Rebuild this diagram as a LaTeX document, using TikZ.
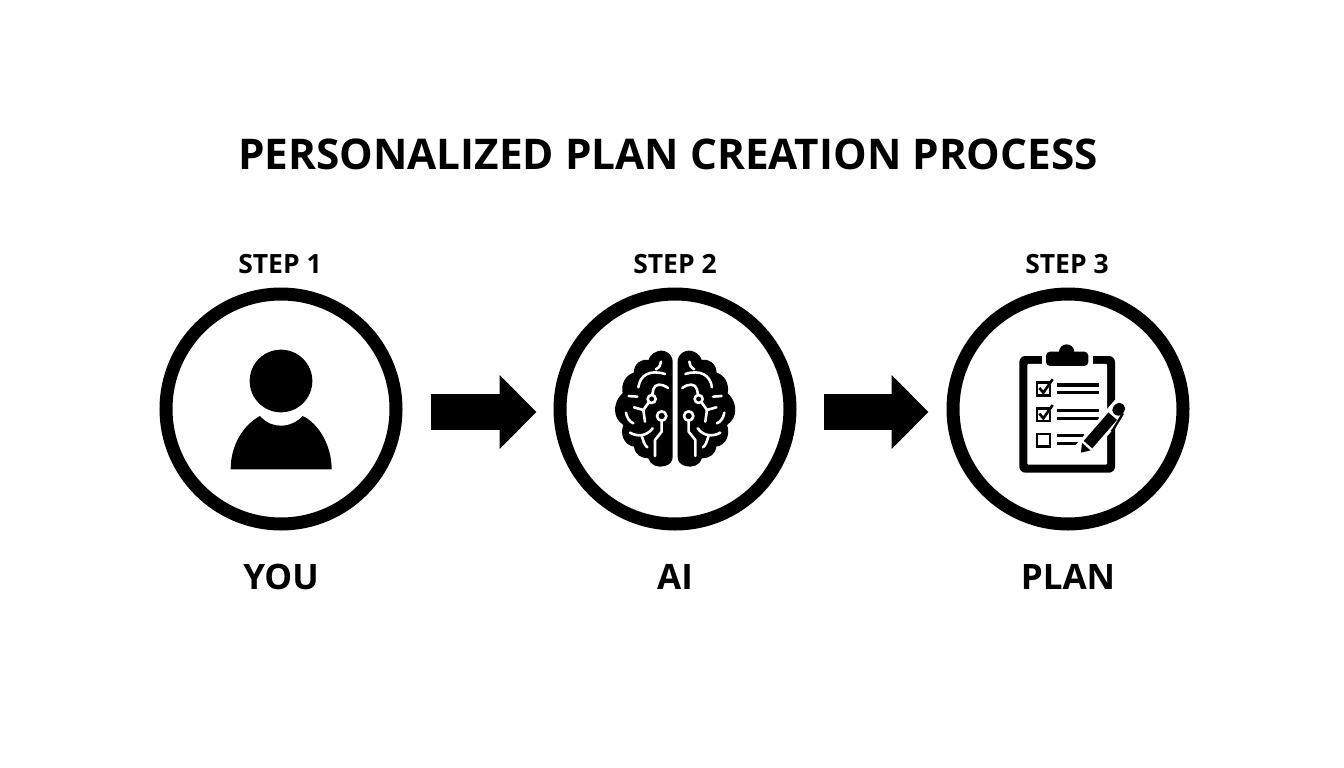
\documentclass[tikz,border=0pt]{standalone}
\usepackage{fontspec}
\setmainfont{Open Sans}
\usetikzlibrary{arrows.meta}
\tikzset{
 x=1pt,y=-1pt,
 ring/.style={circle,draw=black,line width=13pt,minimum size=230pt,inner sep=0pt,fill=white},
 flow/.style={line width=36pt,-{Triangle[length=37pt,width=72pt]},black},
 titletext/.style={font=\fontsize{42.3}{50}\selectfont\bfseries},
 steptext/.style={font=\fontsize{26.5}{30}\selectfont\bfseries},
 nametext/.style={font=\fontsize{35}{42}\selectfont\bfseries},
 vein/.style={draw=white,line width=2.6pt,line cap=round,line join=round},
 bar/.style={draw=black,line width=3.3pt},
}
\newcommand{\hemi}{%
 \fill[black] (218,95) .. controls (218,70) and (190,55) .. (170,65) .. controls (155,70) and (148,82) .. (146,90)
  .. controls (125,85) and (102,100) .. (101,128) .. controls (78,135) and (62,160) .. (68,190)
  .. controls (50,205) and (38,235) .. (50,262) .. controls (55,272) and (62,280) .. (70,285)
  .. controls (60,310) and (70,345) .. (102,350) .. controls (105,375) and (125,385) .. (145,385)
  .. controls (150,405) and (175,415) .. (195,408) .. controls (210,403) and (218,395) .. (218,380) -- cycle;
 \draw[vein] (115,172) .. controls (120,135) and (150,118) .. (195,132);
 \draw[vein] (168,118) .. controls (178,112) and (183,105) .. (183,95);
 \draw[vein] (86,198) -- (112,200);
 \draw[vein] (204,174) .. controls (185,160) and (165,160) .. (160,178) -- (157,194);
 \draw[vein] (155,207) circle (12);
 \draw[vein] (147,216) -- (130,240) -- (102,232);
 \draw[vein] (130,240) -- (135,275);
 \draw[vein] (78,248) .. controls (80,262) and (88,275) .. (100,280);
 \draw[vein] (185,258) circle (14);
 \draw[vein] (185,273) -- (185,305) -- (165,330) -- (165,378);
 \draw[vein] (90,308) .. controls (110,320) and (140,320) .. (158,295);
 \draw[vein] (125,318) .. controls (130,330) and (132,345) .. (142,352);
}
\begin{document}
\begin{tikzpicture}
\useasboundingbox (0,0) rectangle (1344,768);
\fill[white] (0,0) rectangle (1344,768);
\node[titletext] (title) at (668,154) {PERSONALIZED PLAN CREATION PROCESS};
\node[ring] (c1) at (281,409) {};
\node[ring] (c2) at (675,409) {};
\node[ring] (c3) at (1068,409) {};
\node[steptext] (s1) at (280,264) {STEP 1};
\node[steptext] (s2) at (675,264) {STEP 2};
\node[steptext] (s3) at (1067,264) {STEP 3};
\node[nametext] (n1) at (281,577) {YOU};
\node[nametext] (n2) at (675,577) {AI};
\node[nametext] (n3) at (1068,577) {PLAN};
\draw[flow,shorten <=28pt,shorten >=17pt] ([yshift=-3pt]c1.east) -- ([yshift=-3pt]c2.west);
\draw[flow,shorten <=27pt,shorten >=18pt] ([yshift=-3pt]c2.east) -- ([yshift=-3pt]c3.west);
% person
\begin{scope}[shift={(210,330)},x=0.3333pt,y=-0.3333pt]
 \fill[black] (213,153) circle (94);
 \fill[black] (62,418) .. controls (62,345) and (100,285) .. (150,258)
   .. controls (170,280) and (190,287) .. (213,287) .. controls (240,287) and (262,275) .. (278,258)
   .. controls (325,280) and (365,345) .. (365,418) -- cycle;
\end{scope}
% brain
\begin{scope}[shift={(600,330)},x=0.3333pt,y=-0.3333pt]
 \hemi
\end{scope}
\begin{scope}[shift={(750.3,330)},x=-0.3333pt,y=-0.3333pt]
 \hemi
\end{scope}
% clipboard
\begin{scope}[shift={(1000,330)},x=0.3333pt,y=-0.3333pt]
 \fill[black,rounded corners=6pt] (58,78) rectangle (345,428);
 \fill[white,rounded corners=1pt] (82,102) rectangle (321,404);
 \fill[white] (125,70) rectangle (278,102);
 \fill[black,rounded corners=4pt] (138,65) rectangle (265,108);
 \fill[black] (200,66) circle (23);
 \foreach \yy in {0,77}{
  \draw[black,line width=2.6pt] (111,158+\yy) rectangle (150,196+\yy);
  \draw[white,line width=1.6pt] (140,178+\yy) -- (156,152+\yy);
  \draw[black,line width=2.6pt] (118,174+\yy) -- (130,188+\yy) -- (158,148+\yy);
 }
 \draw[black,line width=2.6pt] (111,312) rectangle (150,350);
 \draw[bar] (172,165) -- (296,165); \draw[bar] (172,188) -- (296,188);
 \draw[bar] (172,242) -- (296,242); \draw[bar] (172,265) -- (296,265);
 \draw[bar] (172,316) -- (252,316); \draw[bar] (172,340) -- (240,340);
 % pencil
 \begin{scope}[shift={(243,368)},rotate=49]
  \fill[white,rounded corners=3pt] (-2,-27) rectangle (205,27);
  \fill[black] (0,0) -- (24,-17) -- (24,17) -- cycle;
  \fill[black] (32,-17) rectangle (145,17);
  \fill[black,rounded corners=5pt] (153,-17) rectangle (192,17);
 \end{scope}
 \draw[black,line width=2.3pt] (369,250) -- (340,298) -- (334,304);
\end{scope}
\end{tikzpicture}
\end{document}
